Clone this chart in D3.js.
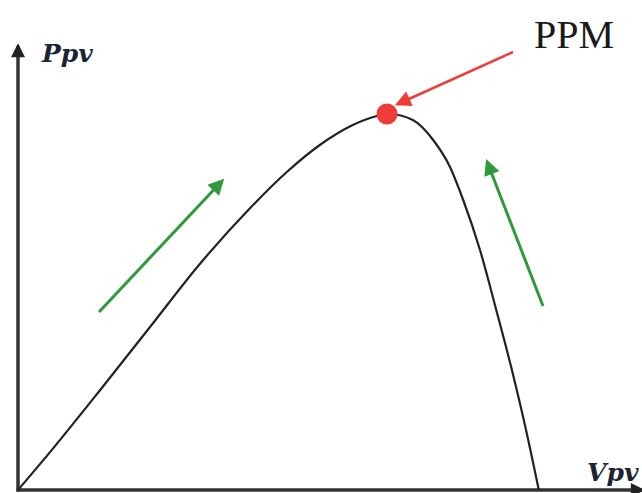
<!DOCTYPE html>
<html>
<head>
<meta charset="utf-8">
<script src="https://cdn.jsdelivr.net/npm/d3@7"></script>
<style>
  html, body { margin: 0; padding: 0; background: #fff; }
  svg { display: block; }
</style>
</head>
<body>
<svg id="chart" width="642" height="493"></svg>
<script>
// P-V characteristic of a photovoltaic panel (arbitrary units)
const voltage = [0, 5.3, 13.7, 22, 30.3, 38.7, 44.8, 50.3, 55.8, 59.8, 61.8, 65.8, 69.2, 72, 74.2, 77, 79.8, 82.4, 84.6, 86.8];
const power   = [0, 9.4, 25, 40.75, 56.5, 70.5, 79.5, 86.25, 91.25, 93.5, 94, 92.5, 87.5, 80.75, 72.5, 60, 44.5, 29.5, 15.5, 0];

// Maximum power point
const mppVoltage = [61.5];
const mppPower = [94];

// Direction arrows: [x0, y0, x1, y1] in data units
const riseArrow = [13.5, 44.5, 34, 77.25];
const fallArrow = [87.5, 46, 78.2, 82];
const mppPointer = [82.5, 109.5, 63.3, 96.5];

// Axis labels
const yLabel = ["Ppv"];
const xLabel = ["Vpv"];
const mppLabel = ["PPM"];

const svg = d3.select("#chart");
const x = d3.scaleLinear().domain([0, 100]).range([18, 618]);
const y = d3.scaleLinear().domain([0, 100]).range([490, 90]);

const defs = svg.append("defs");
function marker(id, color, w, h) {
  defs.append("marker")
    .attr("id", id)
    .attr("viewBox", "0 0 10 10")
    .attr("refX", 8).attr("refY", 5)
    .attr("markerUnits", "userSpaceOnUse")
    .attr("markerWidth", w).attr("markerHeight", h)
    .attr("orient", "auto")
    .append("path")
    .attr("d", "M0,0 L10,5 L0,10 Z")
    .attr("fill", color);
}
marker("axisHead", "#222", 16, 14);
marker("greenHead", "#2f9a3c", 18, 16);
marker("redHead", "#f03c38", 18, 16);

// Axes
svg.append("line")
  .attr("x1", x(0)).attr("y1", y(0) + 1.5)
  .attr("x2", x(0)).attr("y2", y(111))
  .attr("stroke", "#333").attr("stroke-width", 3.5)
  .attr("marker-end", "url(#axisHead)");
svg.append("line")
  .attr("x1", x(0) - 1.5).attr("y1", y(0))
  .attr("x2", x(104)).attr("y2", y(0))
  .attr("stroke", "#333").attr("stroke-width", 3.5)
  .attr("marker-end", "url(#axisHead)");

// P-V curve
const pts = voltage.map((v, i) => [v, power[i]]);
svg.append("path")
  .datum(pts)
  .attr("fill", "none")
  .attr("stroke", "#222")
  .attr("stroke-width", 2.2)
  .attr("d", d3.line().x(d => x(d[0])).y(d => y(d[1])).curve(d3.curveMonotoneX));

// Maximum power point marker
svg.append("circle")
  .attr("cx", x(mppVoltage[0])).attr("cy", y(mppPower[0]))
  .attr("r", 10.5)
  .attr("fill", "#f03c38");

// Arrows
function arrow(a, color, head, w) {
  svg.append("line")
    .attr("x1", x(a[0])).attr("y1", y(a[1]))
    .attr("x2", x(a[2])).attr("y2", y(a[3]))
    .attr("stroke", color).attr("stroke-width", w)
    .attr("marker-end", `url(#${head})`);
}
arrow(riseArrow, "#2f9a3c", "greenHead", 3);
arrow(fallArrow, "#2f9a3c", "greenHead", 3);
arrow(mppPointer, "#f03c38", "redHead", 2.5);

// Labels
svg.append("text")
  .attr("x", 42).attr("y", 62)
  .attr("font-family", "DejaVu Serif").attr("font-style", "italic").attr("font-weight", "bold")
  .attr("font-size", 25).attr("fill", "#1c2433")
  .text(yLabel[0]);
svg.append("text")
  .attr("x", 587).attr("y", 481)
  .attr("font-family", "DejaVu Serif").attr("font-style", "italic").attr("font-weight", "bold")
  .attr("font-size", 25).attr("fill", "#1c2433")
  .text(xLabel[0]);
svg.append("text")
  .attr("x", 534).attr("y", 48)
  .attr("font-family", "Liberation Serif")
  .attr("font-size", 40).attr("fill", "#1a1a1a")
  .text(mppLabel[0]);
</script>
</body>
</html>
